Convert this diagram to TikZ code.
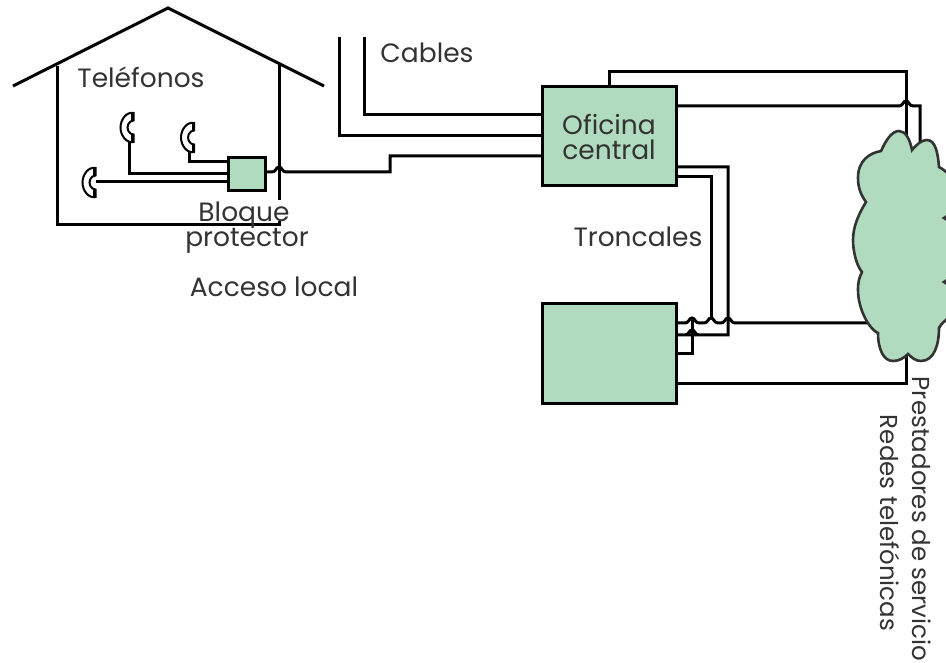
\documentclass[tikz,border=0pt]{standalone}
\usepackage{fontspec}
\setmainfont{Poppins}
\usetikzlibrary{positioning}
\definecolor{boxgreen}{HTML}{B1DBBF}
\definecolor{labelgray}{HTML}{333333}
\tikzset{
    greenbox/.style={rectangle, draw=black, fill=boxgreen, line width=3pt, outer sep=0pt, inner sep=0pt, align=center, font=\labelfont, text=labelgray},
    wire/.style={draw=black, line width=3pt, line join=miter},
    housewall/.style={draw=black, line width=3pt},
    lab/.style={inner sep=0pt, anchor=base, font=\labelfont, text=labelgray},
    sidelab/.style={inner sep=0pt, anchor=base, rotate=-90, font=\sidefont, text=labelgray},
    handset/.pic={
        \draw[black, fill=white, line width=2pt] (6,-14.5) .. controls (-1,-16) and (-7,-8) .. (-7,0)
            .. controls (-7,8) and (-1,16) .. (6,14.5) -- (6,7) -- (3,6)
            .. controls (-1,3) and (-1,-3) .. (3,-6) -- (6,-7) -- cycle;
        \fill[black] (3.5,-15) rectangle (6.8,-7);
        \fill[black] (3.5,7) rectangle (6.8,15);
    }
}
\newcommand{\labelfont}{\fontsize{26.5}{25}\selectfont}
\newcommand{\sidefont}{\fontsize{24.5}{26}\selectfont}
% line that jumps over another one at x=#1, y=#2
\newcommand{\hop}[2]{-- (#1-7,#2) .. controls (#1-3,#2) and (#1-3,#2-5) .. (#1,#2-5) .. controls (#1+3,#2-5) and (#1+3,#2) .. (#1+7,#2)}

\begin{document}
\begin{tikzpicture}[x=1pt, y=-1pt]
    \useasboundingbox (0,0) rectangle (946,663);
    \clip (0,0) rectangle (946,663);

    % House
    \draw[housewall] (13,86) -- (168,8) -- (324,86);
    \draw[housewall] (57,66) -- (57,225) -- (279,225) -- (279,221);
    \draw[housewall] (279,64) -- (279,200);

    % Nodes
    \node[greenbox, minimum width=37pt, minimum height=33pt] (bloque) at (246.5,174.5) {};
    \node[greenbox, minimum width=134pt, minimum height=99pt] (oficina) at (609,136.5) {Oficina\\central};
    \node[greenbox, minimum width=134pt, minimum height=99pt, below=118pt of oficina] (otra) {};

    \node[lab] (telefonos) at (141,88) {Teléfonos};
    \node[lab] (cables) at (427,63) {Cables};
    \node[lab] (troncales) at (638,247) {Troncales};
    \node[lab] (bloquelab) at (244,222) {Bloque};
    \node[lab] (protector) at (247,247) {protector};
    \node[lab] (acceso) at (274,297) {Acceso local};
    \node[sidelab] (prestadores) at (912,519) {Prestadores de servicio};
    \node[sidelab] (redes) at (880,523) {Redes telefónicas};

    % Phones
    \coordinate (tel1) at (129,142);
    \coordinate (tel2) at (189,152);
    \coordinate (tel3) at (96,182);

    % Loose ends
    \coordinate (cab1) at (364,37);
    \coordinate (cab2) at (339,37);
    \coordinate (red) at (906,250);
    \coordinate (redb) at (920,250);

    % Wires
    \draw[wire] (tel1) |- (bloque.west |- 0,174);
    \draw[wire] (tel2) |- (bloque.west |- 0,162);
    \draw[wire] (tel3) -- (bloque.west |- 0,182);
    \draw[wire] (bloque.east |- 0,172) \hop{279}{172} -- (390,172) -- (390,156) -- (oficina.west |- 0,156);
    \draw[wire] (cab1) |- (oficina.west |- 0,115);
    \draw[wire] (cab2) |- (oficina.west |- 0,136);

    \pic at (127.5,127.5) {handset};
    \pic at (188,137.5) {handset};
    \pic at (89.5,182.5) {handset};

    \draw[wire] (oficina.north) -- (609,72) -| (red);
    \draw[wire] (oficina.east |- 0,106) \hop{906}{106} -- (920,106) -- (redb);
    \draw[wire] (oficina.east |- 0,167) -- (728,167) -- (728,335) \hop{692}{335} -- (otra.east |- 0,335);
    \draw[wire] (oficina.east |- 0,177) -- (711,177) -- (711,319);
    \draw[wire] (otra.east |- 0,354) -- (692,354) -- (692,320);
    \draw[wire] (otra.east |- 0,323) \hop{692}{323} \hop{711}{323} \hop{728}{323} -- (red |- 0,323);
    \draw[wire] (otra.east |- 0,383) -| (red);

    % Cloud
    \draw[draw=labelgray, fill=boxgreen, line width=2.6pt] (881,151)
        .. controls (886,140) and (892,131) .. (899,131)
        .. controls (906,131) and (910,140) .. (912,150)
        .. controls (917,144) and (922,140) .. (927,140)
        .. controls (936,140) and (938,155) .. (939,167)
        .. controls (943,169) and (946,172) .. (950,175)
        -- (950,214) -- (944,218) -- (950,222)
        -- (950,278) -- (944,282) -- (950,286)
        -- (950,316) -- (946,320) .. controls (942,323) and (940,326) .. (939,328)
        .. controls (939,345) and (934,361) .. (921,361)
        .. controls (916,361) and (912,358) .. (908,354)
        .. controls (904,358) and (899,361) .. (893,361)
        .. controls (884,361) and (878,350) .. (878,333)
        .. controls (870,330) and (858,310) .. (858,290)
        .. controls (858,282) and (859,278) .. (862,272)
        .. controls (856,265) and (853,250) .. (853,240)
        .. controls (853,225) and (860,212) .. (866,202)
        .. controls (861,195) and (858,188) .. (858,178)
        .. controls (858,160) and (870,153) .. (881,151) -- cycle;
\end{tikzpicture}
\end{document}
